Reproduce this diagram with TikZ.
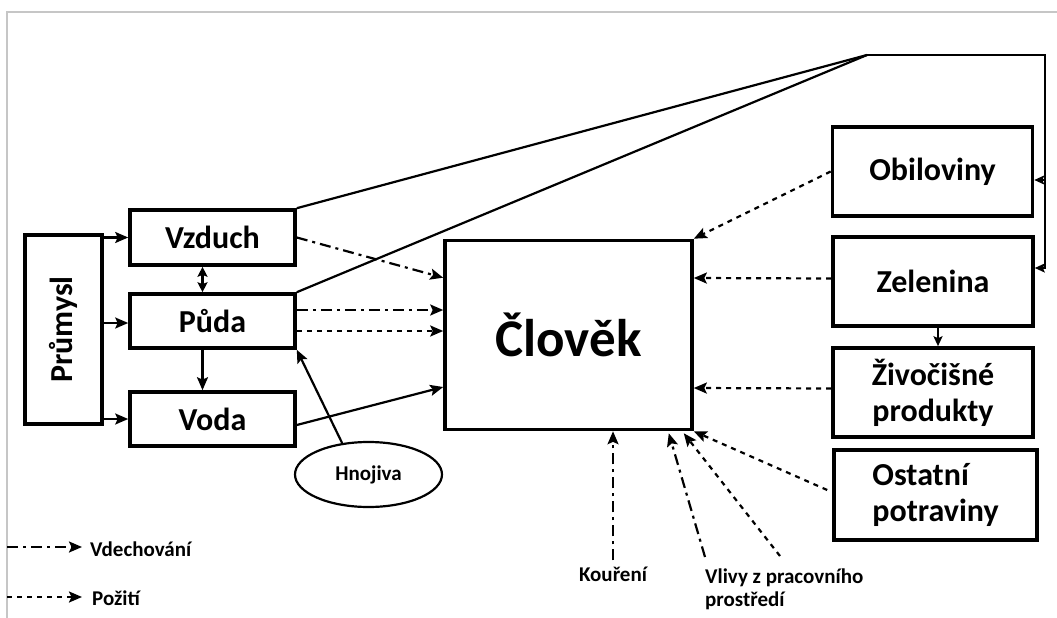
\documentclass[tikz,border=0pt]{standalone}
\usepackage{fontspec}
\usepackage{graphicx}
\setmainfont{Carlito}
\usetikzlibrary{arrows.meta,calc,shapes.geometric}
\begin{document}
\begin{tikzpicture}[x=1pt,y=-1pt,
  box/.style={draw,line width=3.6pt,inner sep=0pt,font=\bfseries\fontsize{32}{36}\selectfont},
  conn/.style={line width=2.2pt,-{Stealth[length=13pt,width=11pt,inset=2.5pt]}},
  small/.style={line width=2.2pt,-{Stealth[length=10pt,width=9pt,inset=2pt]}},
  dashdot/.style={dash pattern=on 11pt off 5pt on 3pt off 5pt},
  dotline/.style={dash pattern=on 5pt off 5pt},
  lbl/.style={font=\bfseries\fontsize{21}{23}\selectfont,inner sep=2pt}]
\useasboundingbox (0,0) rectangle (1057,618);
\fill[white] (0,0) rectangle (1057,618);
\draw[gray!45,line width=1.2pt] (7,618) -- (7,12) -- (1057,12);

% nodes
\node[box,minimum width=77,minimum height=189] (pr) at (63.5,329.5) {\rotatebox{90}{Průmysl}};
\node[box,minimum width=165,minimum height=55] (vz) at (212.5,237.5) {Vzduch};
\node[box,minimum width=165,minimum height=54] (pd) at (212.5,321) {Půda};
\node[box,minimum width=165,minimum height=54] (vo) at (212.5,419) {Voda};
\node[box,minimum width=247,minimum height=189,font=\bfseries\fontsize{53}{60}\selectfont] (cl) at (568.5,335) {Člověk};
\node[box,minimum width=200,minimum height=89] (ob) at (932.5,171.5) {Obiloviny};
\node[box,minimum width=200,minimum height=89] (ze) at (933,281.5) {Zelenina};
\node[box,minimum width=200,minimum height=89,align=center] (zi) at (933,392.5) {Živočišné\\produkty};
\node[box,minimum width=203,minimum height=90,align=left] (os) at (935.5,495) {Ostatní\\potraviny};
\node[draw,ellipse,line width=2.2pt,minimum width=147,minimum height=65,inner sep=0pt,lbl] (hn) at (368.5,474.5) {Hnojiva};

\node[lbl] (ko) at (613,574) {Kouření};
\node[lbl,anchor=north west,align=left,inner sep=0pt] (vl) at (705,569) {Vlivy z pracovního\\prostředí};

\node[lbl,anchor=west] (lv) at (88,549) {Vdechování};
\node[lbl,anchor=west] (lp) at (90,598) {Požití};
\coordinate (l1) at (7,547);
\coordinate (l2) at (7,597);

% Průmysl arrows
\draw[conn] (pr.east |- vz.west) -- (vz.west);
\draw[conn] ($(pr.east |- pd.west)+(0,2)$) -- ($(pd.west)+(0,2)$);
\draw[conn] (pr.east |- vo.west) -- (vo.west);

% between Vzduch, Půda, Voda
\draw[line width=2.2pt,{Stealth[length=10pt,width=10pt,inset=2pt]}-{Stealth[length=10pt,width=10pt,inset=2pt]}] ($(vz.south)+(-10,0)$) -- ($(pd.north)+(-10,0)$);
\draw[conn] ($(pd.south)+(-10,0)$) -- ($(vo.north)+(-10,0)$);

% top loop
\coordinate (tp) at (867,55);
\coordinate (rt) at (1045,55);
\coordinate (c1) at (1045,180);
\coordinate (c2) at (1045,268);
\draw[line width=2.2pt] (vz.north east) -- (tp);
\draw[line width=2.2pt] (pd.north east) -- (tp);
\draw[small] (tp) -- (rt) -- (c2) -- (c2 -| ze.east);
\draw[small] (c1) -- (c1 -| ob.east);

% to Člověk from left
\draw[conn,dashdot] (vz.east) -- ($(cl.north west)+(0,39)$);
\draw[conn,dashdot] ($(pd.east)+(0,-11)$) -- ($(cl.west)+(0,-25)$);
\draw[conn,dotline] ($(pd.east)+(0,10)$) -- ($(cl.west)+(0,-4)$);
\draw[conn] ($(vo.east)+(0,6)$) -- ($(cl.west)+(0,52)$);
\draw[conn] (hn.130) -- (pd.south east);

% to Člověk from right
\draw[conn,dotline] (ob.west) -- (cl.north east);
\draw[conn,dotline] ($(ze.west)+(0,-3)$) -- ($(cl.east)+(0,-57)$);
\draw[conn,dotline] ($(zi.west)+(0,-4)$) -- ($(cl.east)+(0,53)$);
\draw[conn,dotline] ($(os.west)+(-5,-5)$) -- (cl.south east);
\draw[small] ($(ze.south)+(5,0)$) -- ($(zi.north)+(5,0)$);

% from bottom
\draw[conn,dashdot] ($(ko.north)+(0,-4)$) -- (ko.north |- cl.south);
\draw[conn,dashdot] ($(vl.north west)+(0,-12)$) -- ($(cl.south east)+(-25,2)$);
\draw[conn,dotline] ($(vl.north west)+(75,-13)$) -- ($(cl.south east)+(-10,2)$);

% legend
\draw[conn,dashdot] (l1) -- ($(lv.west)+(-6,-2)$);
\draw[conn,dotline] (l2) -- ($(lp.west)+(-8,-1)$);
\end{tikzpicture}
\end{document}
